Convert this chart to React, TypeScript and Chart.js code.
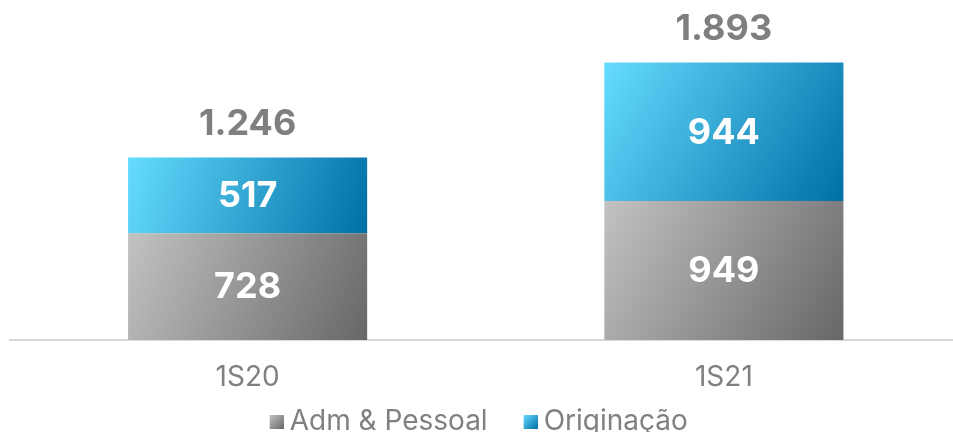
import React, { useEffect, useRef } from "react";
import { Chart, registerables } from "chart.js";

Chart.register(...registerables);

const categories = ["1S20", "1S21"];
const seriesNames = ["Adm & Pessoal", "Originação"];
const admPessoal = [728, 949];
const originacao = [517, 944];
const totals = [1246, 1893];

const gradStops: [string, string][] = [
  ["#c2c2c2", "#676767"],
  ["#66dcff", "#006fa6"],
];

function fmt(n: number): string {
  const s = String(Math.round(n));
  return s.replace(/\B(?=(\d{3})+(?!\d))/g, ".");
}

const FONT = "Inter, 'Open Sans', 'DejaVu Sans', sans-serif";

const gradientPlugin = {
  id: "barGradients",
  beforeDatasetsDraw(chart: any) {
    const ctx = chart.ctx;
    chart.data.datasets.forEach((ds: any, di: number) => {
      const meta = chart.getDatasetMeta(di);
      meta.data.forEach((el: any) => {
        const p = el.getProps(["x", "y", "base", "width"], true);
        const left = p.x - p.width / 2;
        const right = p.x + p.width / 2;
        const top = Math.min(p.y, p.base);
        const bottom = Math.max(p.y, p.base);
        const g = ctx.createLinearGradient(left, top, right, bottom);
        g.addColorStop(0, gradStops[di][0]);
        g.addColorStop(1, gradStops[di][1]);
        el.options.backgroundColor = g;
      });
    });
  },
};

const labelPlugin = {
  id: "valueLabels",
  afterDatasetsDraw(chart: any) {
    const ctx = chart.ctx;
    ctx.save();
    ctx.textAlign = "center";
    ctx.textBaseline = "middle";
    ctx.font = `bold 36px ${FONT}`;
    chart.data.datasets.forEach((ds: any, di: number) => {
      const meta = chart.getDatasetMeta(di);
      meta.data.forEach((el: any, i: number) => {
        const p = el.getProps(["x", "y", "base"], true);
        ctx.fillStyle = "#ffffff";
        ctx.fillText(fmt(ds.data[i]), p.x, (p.y + p.base) / 2 + 1);
      });
    });
    const lastMeta = chart.getDatasetMeta(chart.data.datasets.length - 1);
    lastMeta.data.forEach((el: any, i: number) => {
      const p = el.getProps(["x", "y"], true);
      ctx.fillStyle = "#7f7f7f";
      ctx.fillText(fmt(totals[i]), p.x, p.y - 33);
    });
    ctx.restore();
  },
};

const legendShiftPlugin = {
  id: "legendShift",
  afterLayout(chart: any) {
    const lg = chart.legend;
    if (lg) {
      lg.left -= 20;
      lg.right -= 20;
    }
  },
};

export default function App() {
  const ref = useRef<HTMLCanvasElement | null>(null);
  useEffect(() => {
    document.body.style.margin = "0";
    document.body.style.overflow = "hidden";
    const legendBox = (di: number) => {
      const c = document.createElement("canvas");
      c.width = 48;
      c.height = 14;
      const x = c.getContext("2d")!;
      const g = x.createLinearGradient(34, 0, 48, 14);
      g.addColorStop(0, gradStops[di][0]);
      g.addColorStop(1, gradStops[di][1]);
      x.fillStyle = g;
      x.fillRect(34, 0, 14, 14);
      return c;
    };
    const chart = new Chart(ref.current!, {
      type: "bar",
      data: {
        labels: categories,
        datasets: [
          {
            label: seriesNames[0],
            data: admPessoal,
            backgroundColor: () => gradStops[0][1],
            borderWidth: 0,
            barPercentage: 0.502,
            categoryPercentage: 1,
          },
          {
            label: seriesNames[1],
            data: originacao,
            backgroundColor: () => gradStops[1][1],
            borderWidth: 0,
            barPercentage: 0.502,
            categoryPercentage: 1,
          },
        ],
      },
      options: {
        animation: false,
        responsive: false,
        maintainAspectRatio: false,
        layout: { padding: { left: 9.5, right: 0, top: 0, bottom: 0 } },
        scales: {
          x: {
            stacked: true,
            grid: { display: false, drawTicks: false },
            border: { display: true, color: "#d9d9d9", width: 2 },
            ticks: { color: "#808080", font: { family: FONT, size: 28 }, padding: 21 },
            afterFit: (scale: any) => {
              scale.height = 58;
            },
          },
          y: {
            stacked: true,
            display: false,
            min: 0,
            max: 2320,
          },
        },
        plugins: {
          tooltip: { enabled: false },
          legend: {
            position: "bottom",
            labels: {
              color: "#808080",
              font: { family: FONT, size: 28 },
              usePointStyle: true,
              pointStyleWidth: 32,
              padding: 10,
              generateLabels: (ch: any) =>
                ch.data.datasets.map((ds: any, i: number) => ({
                  text: ds.label,
                  pointStyle: legendBox(i),
                  fontColor: "#808080",
                  lineWidth: 0,
                  strokeStyle: "transparent",
                  datasetIndex: i,
                  hidden: false,
                })),
            },
          },
        },
      },
      plugins: [gradientPlugin, labelPlugin, legendShiftPlugin],
    });
    return () => chart.destroy();
  }, []);
  return (
    <div style={{ position: "absolute", left: 0, top: 0, width: 953, height: 432, overflow: "hidden" }}>
      <canvas ref={ref} width={962} height={446} style={{ width: 962, height: 446, display: "block" }} />
    </div>
  );
}
